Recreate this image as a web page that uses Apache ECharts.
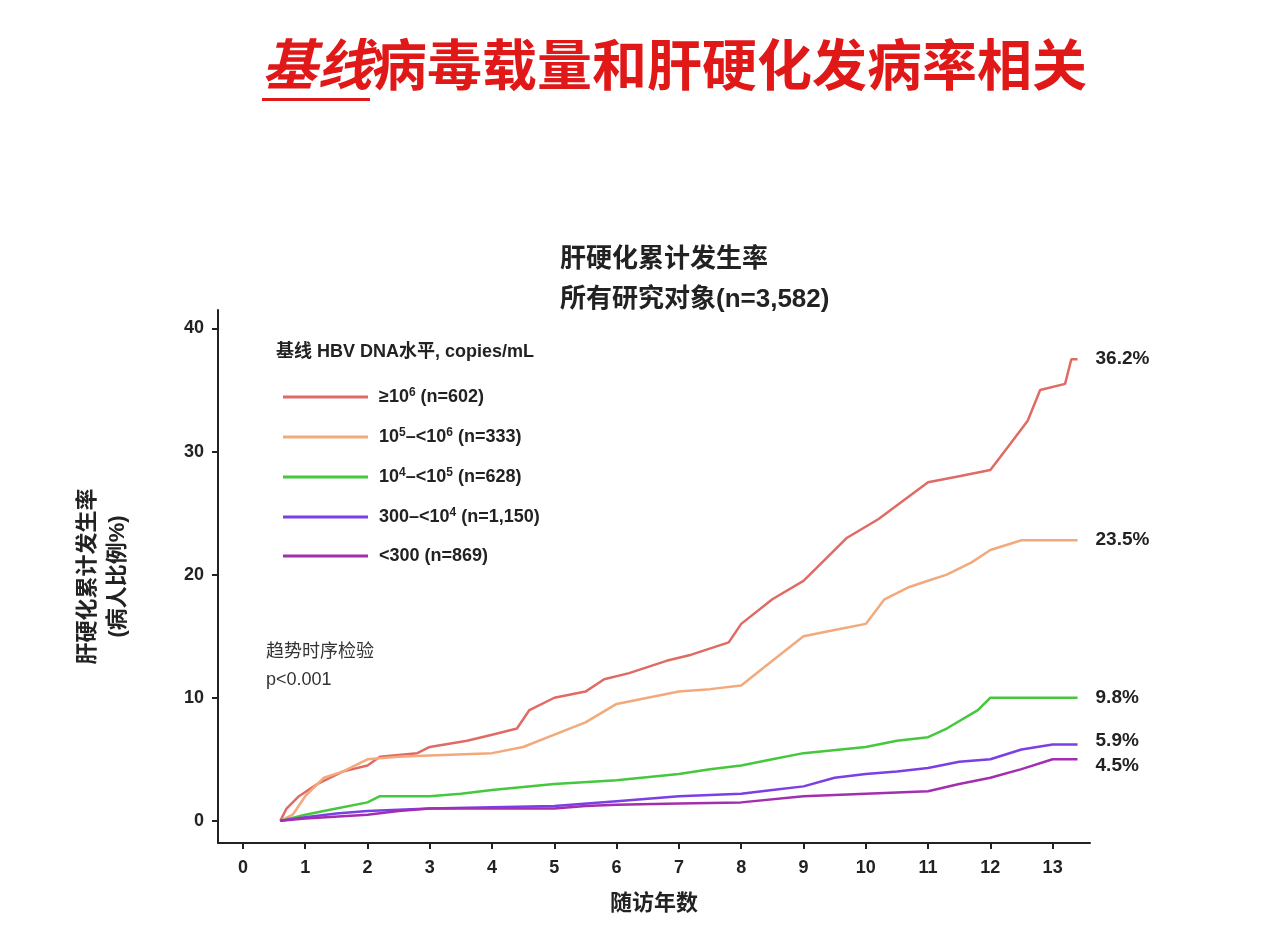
<!DOCTYPE html>
<html>
<head>
<meta charset="utf-8" />
<script src="https://cdn.jsdelivr.net/npm/echarts@6/dist/echarts.min.js"></script>
<style>html,body{margin:0;padding:0;background:#fff;}#main{width:1266px;height:930px;}</style>
</head>
<body>
<div id="main"></div>
<script type="text/javascript">
/* 数据 */
var seriesNames = ['≥10{s|6} (n=602)', '10{s|5}–<10{s|6} (n=333)', '10{s|4}–<10{s|5} (n=628)', '300–<10{s|4} (n=1,150)', '<300 (n=869)'];
var seriesColors = ['#e06a64', '#f2a97c', '#45c83e', '#7b3fe4', '#a22fb0'];
var endLabels = ['36.2%', '23.5%', '9.8%', '5.9%', '4.5%'];
var xTicks = [0,1,2,3,4,5,6,7,8,9,10,11,12,13];
var yTicks = [0,10,20,30,40];

var red = [[0.6,0],[0.7,1],[0.9,2],[1.2,3],[1.6,4],[2,4.5],[2.2,5.2],[2.8,5.5],[3,6],[3.6,6.5],[4,7],[4.4,7.5],[4.6,9],[5,10],[5.5,10.5],[5.8,11.5],[6.2,12],[6.8,13],[7.2,13.5],[7.8,14.5],[8,16],[8.5,18],[9,19.5],[9.3,21],[9.7,23],[10.2,24.5],[10.6,26],[11,27.5],[11.5,28],[12,28.5],[12.3,30.5],[12.6,32.5],[12.8,35],[13.2,35.5],[13.3,37.5],[13.4,37.5]];
var orange = [[0.6,0],[0.8,0.5],[1,2],[1.3,3.5],[1.6,4],[2,5],[2.5,5.2],[3,5.3],[4,5.5],[4.5,6],[5,7],[5.5,8],[6,9.5],[6.5,10],[7,10.5],[7.5,10.7],[8,11],[8.5,13],[9,15],[9.5,15.5],[10,16],[10.3,18],[10.7,19],[11,19.5],[11.3,20],[11.7,21],[12,22],[12.5,22.8],[13.4,22.8]];
var green = [[0.6,0],[1,0.5],[1.5,1],[2,1.5],[2.2,2],[3,2],[3.5,2.2],[4,2.5],[5,3],[6,3.3],[7,3.8],[7.5,4.2],[8,4.5],[8.5,5],[9,5.5],[10,6],[10.5,6.5],[11,6.8],[11.3,7.5],[11.8,9],[12,10],[13.4,10]];
var blue = [[0.6,0],[1,0.3],[1.5,0.6],[2,0.8],[3,1],[4,1.1],[5,1.2],[6,1.6],[7,2],[8,2.2],[8.5,2.5],[9,2.8],[9.5,3.5],[10,3.8],[10.5,4],[11,4.3],[11.5,4.8],[12,5],[12.5,5.8],[13,6.2],[13.4,6.2]];
var purple = [[0.6,0],[1,0.2],[2,0.5],[2.5,0.8],[3,1],[5,1],[5.5,1.2],[6,1.3],[7,1.4],[8,1.5],[9,2],[10,2.2],[11,2.4],[11.5,3],[12,3.5],[12.5,4.2],[13,5],[13.4,5]];
var allData = [red, orange, green, blue, purple];

var chart = echarts.init(document.getElementById('main'));
var font = 'Liberation Sans, Noto Sans CJK SC, sans-serif';

var series = allData.map(function (d, i) {
    return {
        name: seriesNames[i],
        type: 'line',
        data: d,
        symbol: 'none',
        lineStyle: { color: seriesColors[i], width: 2.5 },
        itemStyle: { color: seriesColors[i] },
        endLabel: {
            show: true,
            formatter: endLabels[i],
            distance: 18,
            color: '#222',
            fontSize: 19,
            fontWeight: 'bold',
            fontFamily: font,
            offset: i === 3 ? [0, -4] : (i === 4 ? [0, 6] : [0, 0])
        }
    };
});

var option = {
    animation: false,
    backgroundColor: '#fff',
    grid: { left: 218, right: 176, top: 310, bottom: 87 },
    legend: {
        orient: 'vertical',
        left: 278, top: 382,
        itemGap: 21,
        itemWidth: 85, itemHeight: 3,
        icon: 'rect',
        data: seriesNames,
        textStyle: {
            fontSize: 18, fontWeight: 'bold', color: '#222', fontFamily: font, padding: [0, 0, 0, 6],
            rich: { s: { fontSize: 12, fontWeight: 'bold', verticalAlign: 'top', padding: [0, 0, 8, 0] } }
        }
    },
    xAxis: {
        type: 'value', min: -0.4, max: 13.6, interval: 1,
        name: '随访年数', nameLocation: 'middle', nameGap: 50,
        nameTextStyle: { fontSize: 22, fontWeight: 'bold', color: '#222', fontFamily: font },
        axisLine: { onZero: false, lineStyle: { color: '#222', width: 2 } },
        axisTick: { show: true, lineStyle: { color: '#222', width: 2 }, length: 6, customValues: xTicks },
        axisLabel: { fontSize: 18, fontWeight: 'bold', color: '#222', fontFamily: font, customValues: xTicks, margin: 16 },
        splitLine: { show: false }
    },
    yAxis: {
        type: 'value', min: -1.8, max: 41.5,
        name: '肝硬化累计发生率\n(病人比例%)', nameLocation: 'middle', nameGap: 85, nameRotate: 90,
        nameTextStyle: { fontSize: 22, fontWeight: 'bold', color: '#222', fontFamily: font, lineHeight: 30 },
        axisLine: { onZero: false, lineStyle: { color: '#222', width: 2 } },
        axisTick: { show: true, lineStyle: { color: '#222', width: 2 }, length: 6, customValues: yTicks },
        axisLabel: { fontSize: 18, fontWeight: 'bold', color: '#222', fontFamily: font, customValues: yTicks, margin: 14 },
        splitLine: { show: false }
    },
    graphic: [
        { type: 'text', left: 262, top: 42, style: {
            text: '{i|基线}{n|病毒载量和肝硬化发病率相关}',
            rich: {
                i: { fontSize: 55, fontWeight: 'bold', fontStyle: 'italic', fill: '#e01818', fontFamily: font },
                n: { fontSize: 55, fontWeight: 'bold', fill: '#e01818', fontFamily: font }
            }
        } },
        { type: 'rect', left: 262, top: 98, shape: { width: 108, height: 3 }, style: { fill: '#e01818' } },
        { type: 'text', left: 560, top: 240, style: {
            text: '肝硬化累计发生率\n所有研究对象(n=3,582)', align: 'center', fontSize: 26, fontWeight: 'bold',
            lineHeight: 40, fill: '#222', fontFamily: font
        } },
        { type: 'text', left: 276, top: 343, style: {
            text: '基线 HBV DNA水平, copies/mL', fontSize: 18, fontWeight: 'bold', fill: '#222', fontFamily: font
        } },
        { type: 'text', left: 266, top: 638, style: {
            text: '趋势时序检验\np<0.001', fontSize: 18, lineHeight: 28, fill: '#333', fontFamily: font
        } }
    ],
    series: series
};
chart.setOption(option);
</script>
</body>
</html>
